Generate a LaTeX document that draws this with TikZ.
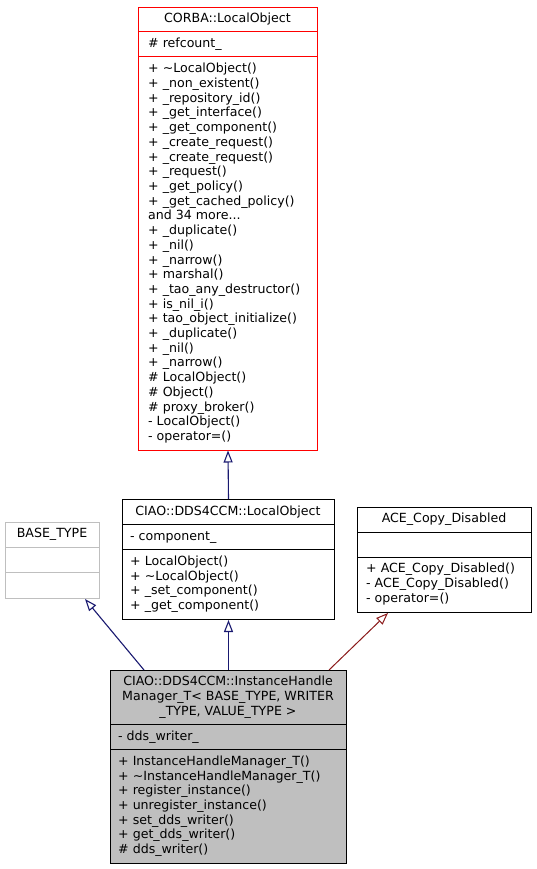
\documentclass[tikz,border=0pt]{standalone}
\usepackage{fontspec}
\setmainfont{DejaVu Sans}
\usetikzlibrary{arrows.meta,calc}
\definecolor{edgeblue}{HTML}{191970}
\definecolor{edgered}{HTML}{8B1A1A}
\definecolor{boxgray}{HTML}{BFBFBF}
\tikzset{
  txt/.style={anchor=base west, inner sep=0pt, font=\fontsize{12.6}{14.7}\selectfont},
  ttl/.style={anchor=base, inner sep=0pt, font=\fontsize{12.6}{14.7}\selectfont},
  umlbox/.style={draw=black, line width=1pt, anchor=north west, inner sep=0pt, fill=white},
  sepline/.style={line width=1pt},
  inherit/.style={draw=edgeblue, line width=1.1pt, -{Triangle[open, length=12pt, width=9pt, fill=white]}},
  privinherit/.style={draw=edgered, line width=1pt, -{Triangle[open, length=12pt, width=9pt, fill=white]}}
}
\begin{document}
\begin{tikzpicture}[x=1pt, y=-1pt]
\fill[white] (0,0) rectangle (536,869);
\useasboundingbox (0,0) rectangle (536,869);

% CORBA::LocalObject
\node[umlbox, draw=red, minimum width=179, minimum height=442.5] (corba) at (138,7) {};
\draw[sepline, red] (corba.west |- 0,32) -- (corba.east |- 0,32);
\draw[sepline, red] (corba.west |- 0,57) -- (corba.east |- 0,57);
\node[ttl] (corbaT) at (227.5,22.9) {CORBA::LocalObject};
\node[txt] (corbaA) at (148,47.9) {\# refcount\_};
\foreach \t [count=\i from 0] in {
  {+ \textasciitilde LocalObject()},
  {+ \_non\_existent()},
  {+ \_repository\_id()},
  {+ \_get\_interface()},
  {+ \_get\_component()},
  {+ \_create\_request()},
  {+ \_create\_request()},
  {+ \_request()},
  {+ \_get\_policy()},
  {+ \_get\_cached\_policy()},
  {and 34 more.\kern0pt.\kern0pt.},
  {+ \_duplicate()},
  {+ \_nil()},
  {+ \_narrow()},
  {+ marshal()},
  {+ \_tao\_any\_destructor()},
  {+ is\_nil\_i()},
  {+ tao\_object\_initialize()},
  {+ \_duplicate()},
  {+ \_nil()},
  {+ \_narrow()},
  {\# LocalObject()},
  {\# Object()},
  {\# proxy\_broker()},
  {- LocalObject()},
  {- operator=()}}
  \node[txt] (corbaM\i) at (148,{72.9+14.7*\i}) {\t};

% CIAO::DDS4CCM::LocalObject
\node[umlbox, minimum width=212, minimum height=120] (ciao) at (122,499) {};
\draw[sepline] (ciao.west |- 0,524.5) -- (ciao.east |- 0,524.5);
\draw[sepline] (ciao.west |- 0,549.5) -- (ciao.east |- 0,549.5);
\node[ttl] (ciaoT) at (228,515.2) {CIAO::DDS4CCM::LocalObject};
\node[txt] (ciaoA) at (130,540.3) {- component\_};
\foreach \t [count=\i from 0] in {
  {+ LocalObject()},
  {+ \textasciitilde LocalObject()},
  {+ \_set\_component()},
  {+ \_get\_component()}}
  \node[txt] (ciaoM\i) at (130,{565.3+14.7*\i}) {\t};

% BASE_TYPE
\node[umlbox, draw=boxgray, minimum width=94, minimum height=76] (base) at (5,522) {};
\draw[sepline, boxgray] (base.west |- 0,547) -- (base.east |- 0,547);
\draw[sepline, boxgray] (base.west |- 0,572) -- (base.east |- 0,572);
\node[ttl] (baseT) at (52,537.9) {BASE\_TYPE};

% ACE_Copy_Disabled
\node[umlbox, minimum width=174, minimum height=105] (ace) at (357,507) {};
\draw[sepline] (ace.west |- 0,532) -- (ace.east |- 0,532);
\draw[sepline] (ace.west |- 0,557) -- (ace.east |- 0,557);
\node[ttl] (aceT) at (444,522.9) {ACE\_Copy\_Disabled};
\foreach \t [count=\i from 0] in {
  {+ ACE\_Copy\_Disabled()},
  {- ACE\_Copy\_Disabled()},
  {- operator=()}}
  \node[txt] (aceM\i) at (366,{572.9+14.7*\i}) {\t};

% CIAO::DDS4CCM::InstanceHandleManager_T
\node[umlbox, fill=boxgray, minimum width=236, minimum height=192.6] (inst) at (110,670) {};
\draw[sepline] (inst.west |- 0,724.4) -- (inst.east |- 0,724.4);
\draw[sepline] (inst.west |- 0,749.4) -- (inst.east |- 0,749.4);
\foreach \t [count=\i from 0] in {
  {CIAO::DDS4CCM::InstanceHandle},
  {Manager\_T< BASE\_TYPE, WRITER},
  {\_TYPE, VALUE\_TYPE >}}
  \node[ttl] (instT\i) at (228,{685.9+14.7*\i}) {\t};
\node[txt] (instA) at (118,740.3) {- dds\_writer\_};
\foreach \t [count=\i from 0] in {
  {+ InstanceHandleManager\_T()},
  {+ \textasciitilde InstanceHandleManager\_T()},
  {+ register\_instance()},
  {+ unregister\_instance()},
  {+ set\_dds\_writer()},
  {+ get\_dds\_writer()},
  {\# dds\_writer()}}
  \node[txt] (instM\i) at (118,{765.3+14.7*\i}) {\t};

% inheritance connectors
\draw[inherit] (ciao.north) -- (corba.south);
\draw[inherit] (inst.north) -- (ciao.south);
\draw[inherit] ($(inst.north west)+(34,0)$) -- ($(base.south west)+(80,0)$);
\draw[privinherit] ($(inst.north east)+(-18,0)$) -- ($(ace.south west)+(31,0)$);
\end{tikzpicture}
\end{document}
